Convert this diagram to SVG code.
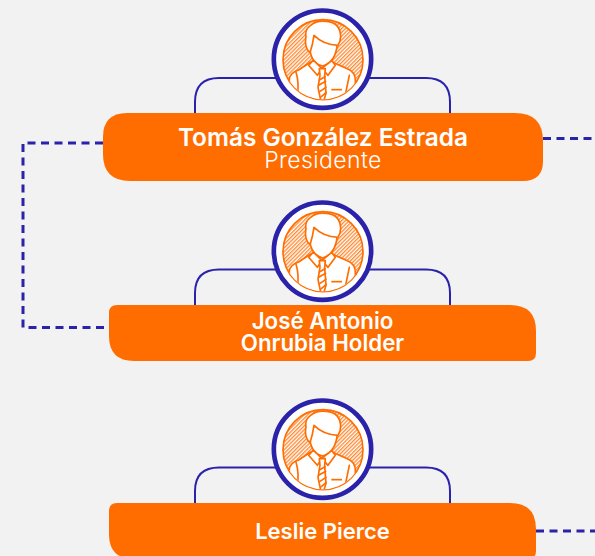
<svg xmlns="http://www.w3.org/2000/svg" width="595" height="556" viewBox="0 0 595 556">
<style>
.box{fill:#ff6d00}
.arc{fill:none;stroke:#2a22a8;stroke-width:2}
.dash{fill:none;stroke:#2a22a8;stroke-width:3;stroke-dasharray:8 5.500}
.name{font-family:Inter,"Noto Sans",sans-serif;font-weight:600;fill:#fff;text-anchor:middle}
.role{font-family:Inter,"Noto Sans",sans-serif;font-weight:300;fill:#fff;text-anchor:middle;letter-spacing:.4px}
.ln{fill:#fff;stroke:#ff6d00;stroke-width:5;stroke-linejoin:round;stroke-linecap:round}
</style>
<defs>
<pattern id="hatch" patternUnits="userSpaceOnUse" width="8" height="8" patternTransform="rotate(45)">
<rect width="8" height="8" fill="#fff"/><rect width="4" height="8" fill="#ff8a33"/>
</pattern>
<clipPath id="cp"><circle cx="189" cy="179" r="119"/></clipPath>
<g id="avatar">
<circle cx="187.500" cy="177.500" r="146" fill="#fff" stroke="#2a22a8" stroke-width="14"/>
<circle cx="189" cy="179" r="120" fill="url(#hatch)" stroke="#ff6d00" stroke-width="5"/>
<g clip-path="url(#cp)">
<path class="ln" d="M88 300V238Q90 218 116 210L152 186L186 208L216 186L262 206Q286 216 286 240V300Z"/>
<path class="ln" d="M108 216Q118 250 112 288M268 226L256 284" fill="none"/>
<path class="ln" d="M146 196 160 180 186 206 172 226ZM226 196 214 180 186 206 204 226Z"/>
<path class="ln" d="M178 206 196 206 194 226 198 280 192 300 182 300 174 262 180 226Z"/>
<path class="ln" d="M178 240 195 230M176 256 197 244M180 274 198 262M184 290 198 278" fill="none"/>
<path class="ln" d="M150 130Q146 186 188 198Q228 186 232 130L234 110 150 110Z"/>
<path class="ln" d="M150 158Q132 142 138 110Q134 88 152 76Q170 60 200 64Q240 68 242 108Q242 124 234 136Q190 134 162 106Q158 134 150 158Z"/>
</g>
<path d="M214 269H246" stroke="#ff6d00" stroke-width="5"/>
</g>
</defs>
<rect width="595" height="556" fill="#f2f2f2"/>
<g id="connectors">
<path class="dash" d="M103 143H23V327.500H105"/>
<path class="dash" d="M543 138.500H595"/>
<path class="dash" d="M536 531H595"/>
<path class="arc" d="M195 113V102Q195 78 219 78H276M369 78H426Q450 78 450 102V113"/>
<path class="arc" d="M195 305V293Q195 269.500 219 269.500H276M369 269.500H426Q450 269.500 450 293V305"/>
<path class="arc" d="M195 503V491Q195 467.500 219 467.500H276M369 467.500H426Q450 467.500 450 491V503"/>
</g>
<g id="node-tomas">
<use href="#avatar" transform="translate(260 0) scale(.3333)"/>
<path class="box" d="M127 113H515Q543 113 543 141V161Q543 181 523 181H130Q103 181 103 154V137Q103 113 127 113Z"/>
<text class="name" x="323" y="146" font-size="24.400">Tomás González Estrada</text>
<text class="role" x="323" y="168" font-size="23">Presidente</text>
</g>
<g id="node-jose">
<use href="#avatar" transform="translate(260 192) scale(.3333)"/>
<path class="box" d="M117 305H510Q536 305 536 331V353Q536 361 528 361H134Q109 361 109 336V313Q109 305 117 305Z"/>
<text class="name" x="322.500" y="329" font-size="22.300">José Antonio</text>
<text class="name" x="322.500" y="351" font-size="22.300">Onrubia Holder</text>
</g>
<g id="node-leslie">
<use href="#avatar" transform="translate(260 390) scale(.3333)"/>
<path class="box" d="M117 503H510Q536 503 536 529V551Q536 559 528 559H134Q109 559 109 534V511Q109 503 117 503Z"/>
<text class="name" x="322.500" y="538.500" font-size="22">Leslie Pierce</text>
</g>
</svg>
